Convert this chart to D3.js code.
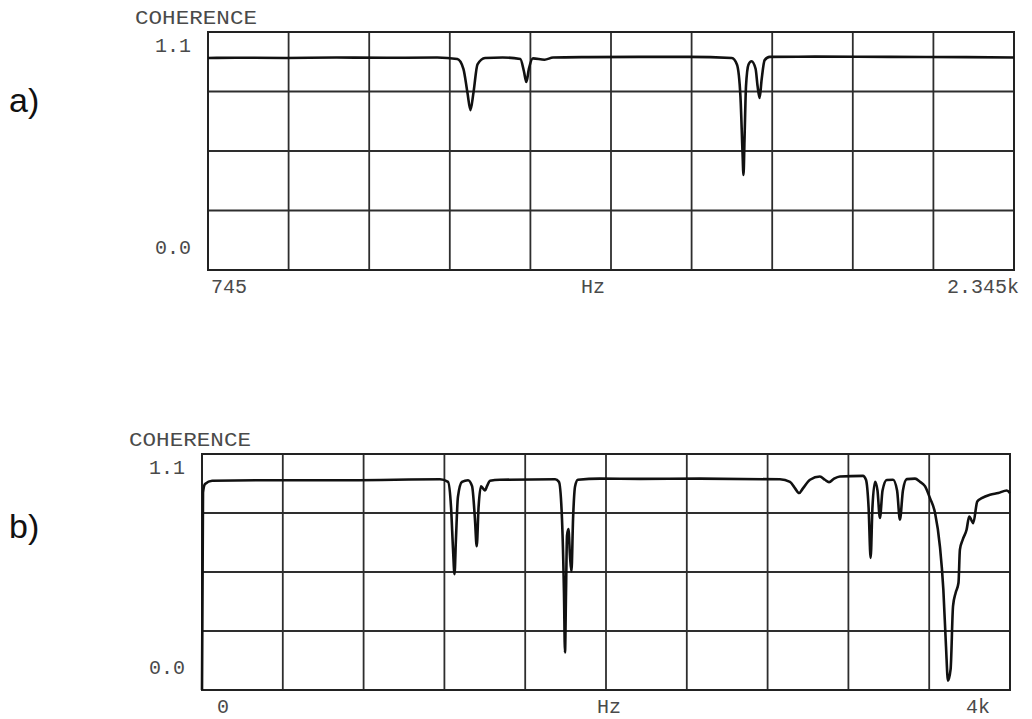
<!DOCTYPE html>
<html>
<head>
<meta charset="utf-8">
<script src="https://cdn.jsdelivr.net/npm/d3@7"></script>
<style>
  body { margin: 0; background: #fff; }
  text { font-family: "Liberation Mono", monospace; fill: #4a4a4a; }
  .grid line { stroke: #2e2e2e; stroke-width: 1.8; }
  .frame { fill: none; stroke: #222; stroke-width: 2; }
  .trace { fill: none; stroke: #111; stroke-width: 2.6; stroke-linejoin: round; }
</style>
</head>
<body>
<svg width="1032" height="719"></svg>
<script>
// panel a) - 745 Hz .. 2.345 kHz
const aFreq = [745, 800, 900, 1000, 1100, 1200, 1240, 1252, 1260, 1266, 1272, 1280, 1295, 1330, 1365, 1372, 1377, 1382, 1390, 1413, 1430, 1500, 1600, 1700, 1785, 1795, 1802, 1806, 1808, 1810, 1813, 1818, 1824, 1832, 1836, 1840, 1844, 1850, 1860, 1950, 2100, 2250, 2345];
const aCoh  = [0.98, 0.981, 0.98, 0.982, 0.981, 0.982, 0.975, 0.93, 0.82, 0.739, 0.82, 0.95, 0.98, 0.982, 0.975, 0.92, 0.869, 0.93, 0.978, 0.972, 0.982, 0.984, 0.985, 0.985, 0.98, 0.95, 0.80, 0.55, 0.439, 0.60, 0.85, 0.95, 0.965, 0.93, 0.85, 0.795, 0.88, 0.97, 0.985, 0.986, 0.985, 0.984, 0.982];

// panel b) - 0 .. 4 kHz
const bFreq = [0, 5, 15, 50, 386, 733, 1178, 1218, 1233, 1243, 1250, 1257, 1267, 1287, 1317, 1337, 1351, 1360, 1369, 1381, 1391, 1401, 1411, 1426, 1475, 1748, 1767, 1782, 1792, 1797, 1802, 1807, 1814, 1822, 1829, 1837, 1847, 1861, 1970, 2168, 2465, 2861, 2911, 2936, 2956, 2975, 3010, 3059, 3084, 3104, 3129, 3158, 3272, 3287, 3300, 3310, 3319, 3332, 3344, 3356, 3369, 3390, 3421, 3441, 3455, 3470, 3489, 3530, 3554, 3579, 3604, 3629, 3653, 3670, 3683, 3693, 3706, 3718, 3731, 3745, 3752, 3766, 3785, 3798, 3818, 3838, 3860, 3901, 3942, 3984, 4000];
const bCoh  = [0.0, 0.92, 0.96, 0.975, 0.978, 0.978, 0.982, 0.97, 0.85, 0.65, 0.54, 0.70, 0.90, 0.97, 0.978, 0.95, 0.80, 0.67, 0.85, 0.95, 0.94, 0.93, 0.95, 0.975, 0.98, 0.982, 0.97, 0.80, 0.45, 0.175, 0.45, 0.72, 0.75, 0.62, 0.553, 0.80, 0.95, 0.98, 0.985, 0.984, 0.985, 0.982, 0.97, 0.94, 0.918, 0.94, 0.98, 0.995, 0.98, 0.969, 0.985, 0.995, 0.998, 0.98, 0.85, 0.616, 0.85, 0.971, 0.93, 0.802, 0.93, 0.979, 0.98, 0.93, 0.794, 0.93, 0.983, 0.985, 0.971, 0.95, 0.894, 0.825, 0.67, 0.469, 0.206, 0.043, 0.097, 0.391, 0.453, 0.50, 0.654, 0.701, 0.747, 0.809, 0.778, 0.879, 0.894, 0.910, 0.918, 0.930, 0.918];

const yTickLabels = ["0.0", "1.1"];
const aXLabels = ["745", "Hz", "2.345k"];
const bXLabels = ["0", "Hz", "4k"];

const svg = d3.select("svg");

function drawPanel(opt) {
  const x = d3.scaleLinear().domain(opt.xDomain).range([opt.left, opt.right]);
  const y = d3.scaleLinear().domain([0, 1.1]).range([opt.bottom, opt.top]);
  const g = svg.append("g");

  // grid: 10 columns, 4 rows
  const xs = d3.range(1, 10).map(i => opt.xDomain[0] + i * (opt.xDomain[1] - opt.xDomain[0]) / 10);
  const ys = d3.range(1, 4).map(i => i * 1.1 / 4);
  const grid = g.append("g").attr("class", "grid");
  grid.selectAll(".v").data(xs).enter().append("line")
    .attr("x1", d => x(d)).attr("x2", d => x(d))
    .attr("y1", opt.top).attr("y2", opt.bottom);
  grid.selectAll(".h").data(ys).enter().append("line")
    .attr("x1", opt.left).attr("x2", opt.right)
    .attr("y1", d => y(d)).attr("y2", d => y(d));

  g.append("rect").attr("class", "frame")
    .attr("x", opt.left).attr("y", opt.top)
    .attr("width", opt.right - opt.left).attr("height", opt.bottom - opt.top);

  // coherence trace
  const line = d3.line()
    .x((d, i) => x(opt.freq[i]))
    .y(d => y(d))
    .curve(d3.curveMonotoneX);
  g.append("path").attr("class", "trace").attr("d", line(opt.coh));

  // texts
  const fs = 20;
  g.append("text").attr("x", opt.left - 73).attr("y", opt.top - 8)
    .attr("font-size", fs).attr("textLength", 122).attr("lengthAdjust", "spacingAndGlyphs")
    .text("COHERENCE");
  g.append("text").attr("x", opt.left - 17).attr("y", y(1.1) + 20)
    .attr("font-size", fs).attr("text-anchor", "end").text(yTickLabels[1]);
  g.append("text").attr("x", opt.left - 17).attr("y", y(0) - 16)
    .attr("font-size", fs).attr("text-anchor", "end").text(yTickLabels[0]);

  opt.xLabels.forEach((t, i) => {
    g.append("text").attr("x", opt.xLabelPos[i]).attr("y", opt.bottom + 23)
      .attr("font-size", fs).attr("text-anchor", "middle").text(t);
  });

  svg.append("text").attr("x", 9).attr("y", opt.tagY)
    .style("font-family", "'Liberation Sans', Arial, sans-serif")
    .style("fill", "#111")
    .attr("font-size", 34).text(opt.tag);
}

drawPanel({
  left: 208, right: 1014, top: 32, bottom: 270,
  xDomain: [745, 2345], freq: aFreq, coh: aCoh,
  xLabels: aXLabels, xLabelPos: [229, 593, 983],
  tag: "a)", tagY: 112
});

drawPanel({
  left: 202, right: 1010, top: 454, bottom: 690,
  xDomain: [0, 4000], freq: bFreq, coh: bCoh,
  xLabels: bXLabels, xLabelPos: [223, 609, 978],
  tag: "b)", tagY: 538
});
</script>
</body>
</html>
